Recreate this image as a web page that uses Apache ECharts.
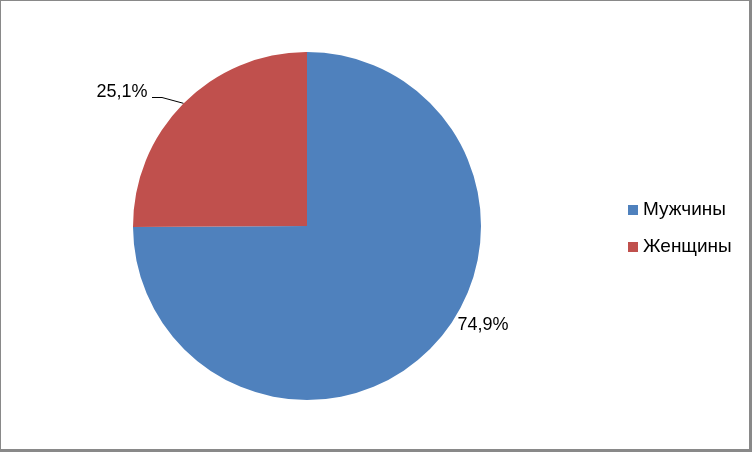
<!DOCTYPE html>
<html><head><meta charset="utf-8">
<script src="https://cdn.jsdelivr.net/npm/echarts@6/dist/echarts.min.js"></script>
<style>
html,body{margin:0;padding:0;background:#fff;}
#frame{position:absolute;left:0;top:0;width:752px;height:452px;border-top:1px solid #898989;border-left:1px solid #898989;border-right:3px solid #898989;border-bottom:3px solid #898989;box-sizing:border-box;}
#chart{position:absolute;left:0;top:0;width:752px;height:452px;}
</style></head>
<body>
<div id="frame"></div>
<div id="chart"></div>
<script>
const categories = ['Мужчины', 'Женщины'];
const values = [74.9, 25.1];
const colors = ['#4F81BD', '#C0504D'];

const chart = echarts.init(document.getElementById('chart'));
const FONT = 'Liberation Sans';
chart.setOption({
  animation: false,
  color: colors,
  legend: {
    orient: 'vertical',
    left: 623,
    top: 194,
    itemWidth: 10,
    itemHeight: 10,
    itemGap: 15,
    icon: 'rect',
    textStyle: { fontFamily: FONT, fontSize: 19, color: '#000', lineHeight: 22, padding: [0, 0, 0, 0] },
    data: categories
  },
  series: [{
    type: 'pie',
    center: [307, 226],
    radius: [0, 174],
    startAngle: 90,
    clockwise: true,
    data: categories.map((c, i) => ({ name: c, value: values[i],
      labelLine: { show: i === 1 } })),
    label: {
      show: true,
      position: 'outside',
      fontFamily: FONT,
      fontSize: 18,
      color: '#000',
      formatter: p => p.value.toFixed(1).replace('.', ',') + '%'
    },
    labelLine: { show: true, length: 10, length2: 10, lineStyle: { color: '#000', width: 1 } },
    labelLayout: function (params) {
      if (params.dataIndex === 0) {
        return { x: 483, y: 325, align: 'center', verticalAlign: 'middle' };
      }
      const p0 = params.labelLinePoints ? params.labelLinePoints[0] : [183, 103];
      return { x: 122, y: 92, align: 'center', verticalAlign: 'middle',
        labelLinePoints: [p0, [162, 97.5], [152, 97.5]] };
    }
  }]
});
</script>
</body></html>
